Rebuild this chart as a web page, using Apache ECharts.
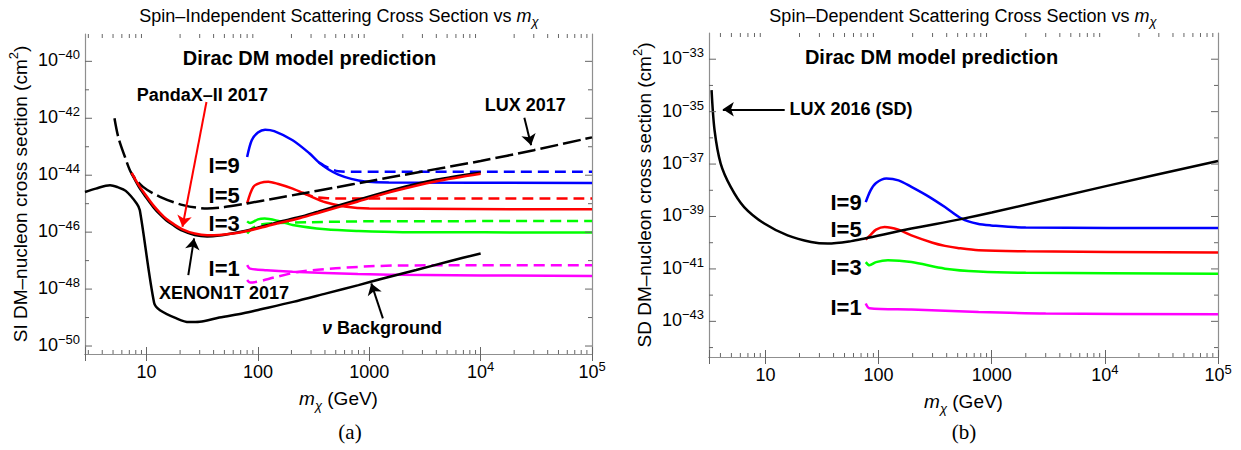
<!DOCTYPE html>
<html>
<head>
<meta charset="utf-8">
<title>Dirac DM cross sections</title>
<script src="https://cdn.jsdelivr.net/npm/echarts@6/dist/echarts.min.js"></script>
<style>
  html, body { margin: 0; padding: 0; background: #fff; }
  #main { width: 1241px; height: 450px; }
</style>
</head>
<body>
<div id="main"></div>
<script>
// masses in GeV, cross sections stored as log10(sigma / cm^2)

// ---------- (a) spin-independent ----------
const nuBgMass = [2.8, 3.5, 4.7, 5.5, 6.5, 8.15, 8.7, 11.7, 13.2, 18.6, 24, 30, 45, 74, 104, 207, 412, 800, 1325, 2636, 5250, 10000];
const nuBgExp = [-44.59, -44.47, -44.35, -44.42, -44.55, -44.99, -45.23, -48.49, -48.74, -49.03, -49.16, -49.15, -49.0, -48.85, -48.72, -48.45, -48.15, -47.86, -47.63, -47.33, -47.02, -46.75];

const luxMass = [5.15, 5.57, 6.4, 7.34, 9.3, 13.2, 21.3, 35, 50, 80, 150, 236, 500, 1000, 3000, 10000, 30000, 100000];
const luxExp = [-42.0, -42.66, -43.36, -43.94, -44.41, -44.76, -45.05, -45.17, -45.12, -44.99, -44.8, -44.66, -44.43, -44.21, -43.87, -43.5, -43.12, -42.67];

const xenonMass = [7.34, 8.5, 10, 11.5, 13.2, 15, 17.3, 21, 27, 35, 45, 60, 80, 120, 154, 236, 346, 780, 1750, 3930, 10000];
const xenonExp = [-43.94, -44.4, -44.8, -45.12, -45.38, -45.58, -45.75, -45.95, -46.1, -46.15, -46.12, -46.04, -45.94, -45.76, -45.64, -45.47, -45.28, -44.87, -44.48, -44.16, -43.9];
const pandaxExp = [-43.92, -44.35, -44.74, -45.06, -45.32, -45.53, -45.7, -45.9, -46.05, -46.11, -46.1, -46.05, -45.96, -45.79, -45.68, -45.51, -45.33, -44.93, -44.54, -44.22, -43.95];

const siI9Mass = [80, 88, 100, 116, 140, 205, 288, 352, 431, 528, 689, 912, 1500, 100000];
const siI9Exp = [-43.36, -42.77, -42.5, -42.4, -42.45, -42.77, -43.22, -43.55, -43.8, -43.98, -44.13, -44.22, -44.26, -44.27];
const siI9dMass = [352, 431, 528, 700, 100000];
const siI9dExp = [-43.55, -43.75, -43.86, -43.88, -43.88];

const siI5Mass = [80, 91, 105, 124, 150, 205, 288, 404, 600, 1000, 100000];
const siI5Exp = [-44.99, -44.41, -44.27, -44.23, -44.3, -44.47, -44.72, -44.95, -45.1, -45.17, -45.2];
const siI5dMass = [250, 320, 420, 600, 100000];
const siI5dExp = [-44.6, -44.76, -44.81, -44.82, -44.82];

const siI3Mass = [80, 85, 100, 115, 150, 205, 404, 800, 2000, 100000];
const siI3Exp = [-45.62, -45.68, -45.55, -45.52, -45.6, -45.75, -45.9, -45.96, -46.0, -46.01];
const siI3dMass = [80, 90, 110, 150, 300, 1000, 100000];
const siI3dExp = [-46.05, -45.85, -45.72, -45.68, -45.65, -45.62, -45.61];

const siI1Mass = [80, 85, 120, 205, 790, 1800, 100000];
const siI1Exp = [-47.16, -47.28, -47.34, -47.39, -47.47, -47.5, -47.54];
const siI1dMass = [80, 85, 147, 236, 500, 1000, 2000, 100000];
const siI1dExp = [-47.68, -47.77, -47.57, -47.39, -47.27, -47.2, -47.17, -47.16];

// ---------- (b) spin-dependent ----------
const luxSdMass = [3.34, 3.55, 4.02, 4.93, 6.48, 9.77, 15.7, 25.3, 35.6, 57.4, 75.4, 195, 508, 1000, 10000, 100000];
const luxSdExp = [-34.18, -35.71, -36.98, -37.87, -38.64, -39.27, -39.72, -39.97, -40.03, -39.94, -39.84, -39.46, -39.12, -38.85, -37.85, -36.88];

const sdI9Mass = [77, 85, 95, 117, 150, 195, 280, 386, 543, 750, 986, 2000, 100000];
const sdI9Exp = [-38.45, -38.0, -37.72, -37.55, -37.62, -37.87, -38.25, -38.64, -39.08, -39.28, -39.34, -39.42, -39.44];
const sdI5Mass = [77, 85, 95, 113, 150, 195, 300, 386, 500, 766, 2000, 100000];
const sdI5Exp = [-39.88, -39.7, -39.5, -39.4, -39.5, -39.72, -40.0, -40.12, -40.2, -40.29, -40.33, -40.37];
const sdI3Mass = [77, 83, 95, 121, 195, 386, 766, 2000, 100000];
const sdI3Exp = [-40.74, -40.86, -40.74, -40.67, -40.74, -40.99, -41.1, -41.15, -41.18];
const sdI1Mass = [77, 83, 195, 766, 3000, 100000];
const sdI1Exp = [-42.32, -42.5, -42.55, -42.64, -42.7, -42.73];

// tick labels / ticks
const siMajorExp = [-50, -48, -46, -44, -42, -40];
const siMinorExp = [-49, -47, -45, -43, -41];
const sdMajorExp = [-43, -41, -39, -37, -35, -33];
const sdMinorExp = [-44, -42, -40, -38, -36, -34];
const xMinorMant = [2, 3, 4, 5, 6, 7, 8, 9];

// axis ranges (log10 for y)
const siRange = { xMin: 2.8, xMax: 1e5, eMin: -50.28, eMax: -39.04 };
const sdRange = { xMin: 3.17, xMax: 1e5, eMin: -44.36, eMax: -32.0 };

const FONT = 'Liberation Sans, Arial, Helvetica, sans-serif';
const FRAME = '#8f8f8f';
const TICK = '#666';
const pow10 = (e) => Math.pow(10, e);

const supRich = {
  b: { fontSize: 18, lineHeight: 24, fontFamily: FONT, color: '#000' },
  s: { fontSize: 13, lineHeight: 12, verticalAlign: 'top', fontFamily: FONT, color: '#000' }
};

function curve(gi, mass, exp, color, dash, z) {
  return {
    type: 'line', xAxisIndex: gi * 2, yAxisIndex: gi * 2,
    data: mass.map((m, i) => [m, pow10(exp[i])]),
    symbol: 'none', showSymbol: false, smooth: 0.3, silent: true, z: z || 3,
    lineStyle: { color: color, width: 2.5, type: dash || 'solid', cap: 'butt' }
  };
}

function xMinorTicks(gi, r) {
  const vals = [];
  for (let k = 0; k < 5; k++) {
    xMinorMant.forEach((m) => {
      const v = m * pow10(k);
      if (v > r.xMin && v < r.xMax) vals.push(v);
    });
  }
  return {
    type: 'custom', xAxisIndex: gi * 2, yAxisIndex: gi * 2, silent: true, clip: false, z: 6,
    data: vals.map((v) => [v, pow10(r.eMin)]),
    renderItem(params, api) {
      const v = vals[params.dataIndex];
      const pb = api.coord([v, pow10(r.eMin)]);
      const pt = api.coord([v, pow10(r.eMax)]);
      return {
        type: 'group',
        children: [
          { type: 'line', shape: { x1: pb[0], y1: pb[1], x2: pb[0], y2: pb[1] - 4 }, style: { stroke: TICK, lineWidth: 1 } },
          { type: 'line', shape: { x1: pt[0], y1: pt[1], x2: pt[0], y2: pt[1] + 4 }, style: { stroke: TICK, lineWidth: 1 } }
        ]
      };
    }
  };
}

function yTicks(gi, r, majors, minors) {
  const all = majors.map((e) => ({ e: e, major: true })).concat(minors.map((e) => ({ e: e, major: false })));
  return {
    type: 'custom', xAxisIndex: gi * 2, yAxisIndex: gi * 2, silent: true, clip: false, z: 6,
    data: all.map((t) => [r.xMin, pow10(t.e)]),
    renderItem(params, api) {
      const t = all[params.dataIndex];
      const pl = api.coord([r.xMin, pow10(t.e)]);
      const pr = api.coord([r.xMax, pow10(t.e)]);
      const len = t.major ? 7 : 4;
      const children = [
        { type: 'line', shape: { x1: pl[0], y1: pl[1], x2: pl[0] + len, y2: pl[1] }, style: { stroke: TICK, lineWidth: 1 } },
        { type: 'line', shape: { x1: pr[0], y1: pr[1], x2: pr[0] - len, y2: pr[1] }, style: { stroke: TICK, lineWidth: 1 } }
      ];
      if (t.major) {
        children.push({
          type: 'text', x: pl[0] - 5, y: pl[1] - 1,
          style: { text: '{b|10}{s|\u2212' + Math.abs(t.e) + '}', rich: supRich, align: 'right', verticalAlign: 'middle' }
        });
      }
      return { type: 'group', children: children };
    }
  };
}

function notes(gi, list) {
  return {
    type: 'custom', xAxisIndex: gi * 2, yAxisIndex: gi * 2, silent: true, clip: false, z: 10,
    data: list.map((n) => [n.m, pow10(n.e)]),
    renderItem(params, api) {
      const n = list[params.dataIndex];
      const p = api.coord([n.m, pow10(n.e)]);
      return {
        type: 'text', x: p[0], y: p[1],
        style: {
          text: n.text, fill: '#000', fontFamily: FONT, fontWeight: 'bold', fontSize: n.size,
          align: n.align || 'center', verticalAlign: 'middle',
          rich: { nu: { fontStyle: 'italic', fontWeight: 'bold', fontSize: n.size, fontFamily: FONT, color: '#000' } }
        }
      };
    }
  };
}

function arrows(gi, list, color) {
  return {
    type: 'lines', coordinateSystem: 'cartesian2d', xAxisIndex: gi * 2, yAxisIndex: gi * 2,
    silent: true, z: 9, symbol: ['none', 'arrow'], symbolSize: 11,
    lineStyle: { color: color, width: 2, opacity: 1 },
    data: list.map((a) => ({ coords: [[a.from[0], pow10(a.from[1])], [a.to[0], pow10(a.to[1])]] }))
  };
}

const siNotes = [
  { m: 290, e: -39.9, text: 'Dirac DM model prediction', size: 20 },
  { m: 31.7, e: -41.19, text: 'PandaX\u2013II 2017', size: 18 },
  { m: 25100, e: -41.54, text: 'LUX 2017', size: 18 },
  { m: 49.6, e: -48.15, text: 'XENON1T 2017', size: 18 },
  { m: 1303, e: -49.38, text: '{nu|\u03bd} Background', size: 18 },
  { m: 68.7, e: -43.65, text: 'I=9', size: 22, align: 'right' },
  { m: 68.7, e: -44.7, text: 'I=5', size: 22, align: 'right' },
  { m: 68.7, e: -45.7, text: 'I=3', size: 22, align: 'right' },
  { m: 68.7, e: -47.27, text: 'I=1', size: 22, align: 'right' }
];
const siArrowsBlack = [
  { from: [24700, -41.98], to: [28400, -42.95] },
  { from: [23.7, -47.51], to: [26.7, -46.22] },
  { from: [1325, -49.03], to: [1042, -47.8] }
];
const siArrowsRed = [{ from: [34.5, -41.43], to: [21, -45.81] }];

const sdNotes = [
  { m: 294, e: -32.91, text: 'Dirac DM model prediction', size: 20 },
  { m: 16.3, e: -34.91, text: 'LUX 2016 (SD)', size: 18, align: 'left' },
  { m: 70.8, e: -38.45, text: 'I=9', size: 22, align: 'right' },
  { m: 70.8, e: -39.5, text: 'I=5', size: 22, align: 'right' },
  { m: 70.8, e: -40.95, text: 'I=3', size: 22, align: 'right' },
  { m: 70.8, e: -42.48, text: 'I=1', size: 22, align: 'right' }
];
const sdArrows = [{ from: [14.8, -34.91], to: [4.2, -34.91] }];

function xAxisPair(gi, r) {
  const common = {
    type: 'log', logBase: 10, gridIndex: gi, min: r.xMin, max: r.xMax,
    axisLine: { show: true, lineStyle: { color: FRAME, width: 1.2 } },
    axisTick: { show: true, inside: true, length: 7, lineStyle: { color: TICK } },
    splitLine: { show: false }, minorTick: { show: false }
  };
  return [
    Object.assign({}, common, {
      position: 'bottom',
      name: '{i|m}{sub|\u03c7} (GeV)', nameLocation: 'middle', nameGap: 30,
      nameTextStyle: {
        fontSize: 19, fontFamily: FONT, color: '#000', lineHeight: 26,
        rich: {
          i: { fontStyle: 'italic', fontSize: 19, fontFamily: FONT, lineHeight: 26, color: '#000' },
          sub: { fontStyle: 'italic', fontSize: 13, fontFamily: FONT, verticalAlign: 'bottom', lineHeight: 14, color: '#000' }
        }
      },
      axisLabel: {
        margin: 6, color: '#000', rich: supRich,
        formatter: (v) => {
          const e = Math.log10(v);
          if (Math.abs(e - Math.round(e)) > 1e-6) return '';
          const k = Math.round(e);
          return k <= 3 ? '{b|' + Math.pow(10, k) + '}' : '{b|10}{s|' + k + '}';
        }
      }
    }),
    Object.assign({}, common, { position: 'top', axisLabel: { show: false } })
  ];
}

function yAxisPair(gi, r, name) {
  const common = {
    type: 'log', logBase: 10, gridIndex: gi, min: pow10(r.eMin), max: pow10(r.eMax),
    axisLine: { show: true, lineStyle: { color: FRAME, width: 1.2 } },
    axisTick: { show: false }, axisLabel: { show: false }, splitLine: { show: false }
  };
  return [
    Object.assign({}, common, {
      position: 'left', name: name, nameLocation: 'middle', nameRotate: 90, nameGap: 52,
      nameTextStyle: {
        fontSize: 19, fontFamily: FONT, color: '#000',
        rich: {
          n: { fontSize: 19, fontFamily: FONT, lineHeight: 26, color: '#000' },
          s: { fontSize: 13, fontFamily: FONT, lineHeight: 12, verticalAlign: 'top', color: '#000' }
        }
      }
    }),
    Object.assign({}, common, { position: 'right' })
  ];
}

const series = [
  // panel (a)
  curve(0, nuBgMass, nuBgExp, '#000', 'solid', 4),
  curve(0, luxMass, luxExp, '#000', [18, 5], 4),
  curve(0, xenonMass, xenonExp, '#000', 'solid', 4),
  curve(0, xenonMass, pandaxExp, '#ff0000', 'solid', 5),
  curve(0, siI9Mass, siI9Exp, '#0000ff'),
  curve(0, siI9dMass, siI9dExp, '#0000ff', [11, 6]),
  curve(0, siI5Mass, siI5Exp, '#ff0000'),
  curve(0, siI5dMass, siI5dExp, '#ff0000', [11, 6]),
  curve(0, siI3Mass, siI3Exp, '#00ff00'),
  curve(0, siI3dMass, siI3dExp, '#00ff00', [11, 6]),
  curve(0, siI1Mass, siI1Exp, '#ff00ff'),
  curve(0, siI1dMass, siI1dExp, '#ff00ff', [11, 6]),
  xMinorTicks(0, siRange),
  yTicks(0, siRange, siMajorExp, siMinorExp),
  notes(0, siNotes),
  arrows(0, siArrowsBlack, '#000'),
  arrows(0, siArrowsRed, '#ff0000'),
  // panel (b)
  curve(1, luxSdMass, luxSdExp, '#000', 'solid', 4),
  curve(1, sdI9Mass, sdI9Exp, '#0000ff'),
  curve(1, sdI5Mass, sdI5Exp, '#ff0000'),
  curve(1, sdI3Mass, sdI3Exp, '#00ff00'),
  curve(1, sdI1Mass, sdI1Exp, '#ff00ff'),
  xMinorTicks(1, sdRange),
  yTicks(1, sdRange, sdMajorExp, sdMinorExp),
  notes(1, sdNotes),
  arrows(1, sdArrows, '#000')
];

const titleRich = {
  i: { fontStyle: 'italic', fontSize: 18, fontFamily: FONT, lineHeight: 24 },
  sub: { fontStyle: 'italic', fontSize: 13, fontFamily: FONT, lineHeight: 12, verticalAlign: 'bottom' }
};

const option = {
  animation: false,
  backgroundColor: '#fff',
  grid: [
    { left: 85, top: 34, width: 507, height: 320 },
    { left: 709, top: 33, width: 509, height: 324 }
  ],
  xAxis: xAxisPair(0, siRange).concat(xAxisPair(1, sdRange)),
  yAxis: yAxisPair(0, siRange, '{n|SI DM\u2013nucleon cross section (cm}{s|2}{n|)}')
    .concat(yAxisPair(1, sdRange, '{n|SD DM\u2013nucleon cross section (cm}{s|2}{n|)}')),
  graphic: [
    { type: 'text', x: 339, y: 16, style: { text: 'Spin\u2013Independent Scattering Cross Section vs {i|m}{sub|\u03c7}', rich: titleRich, fontSize: 18, fontFamily: FONT, fill: '#000', align: 'center', verticalAlign: 'middle' } },
    { type: 'text', x: 963, y: 16, style: { text: 'Spin\u2013Dependent Scattering Cross Section vs {i|m}{sub|\u03c7}', rich: titleRich, fontSize: 18, fontFamily: FONT, fill: '#000', align: 'center', verticalAlign: 'middle' } },
    { type: 'text', x: 350, y: 432, style: { text: '(a)', fontSize: 21, fontFamily: 'Liberation Serif, Times New Roman, serif', fill: '#000', align: 'center', verticalAlign: 'middle' } },
    { type: 'text', x: 964, y: 432, style: { text: '(b)', fontSize: 21, fontFamily: 'Liberation Serif, Times New Roman, serif', fill: '#000', align: 'center', verticalAlign: 'middle' } }
  ],
  series: series
};

const chart = echarts.init(document.getElementById('main'), null, { renderer: 'svg' });
chart.setOption(option);
</script>
</body>
</html>
